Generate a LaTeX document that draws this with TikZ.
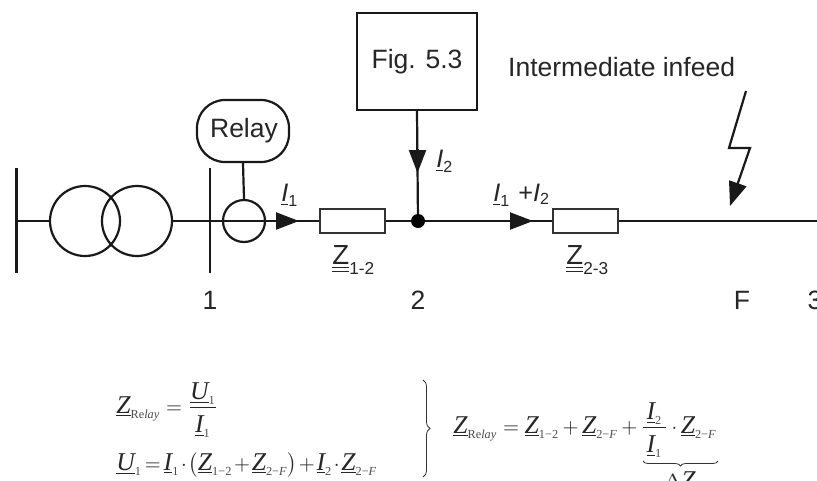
\documentclass[tikz,border=0pt]{standalone}
\usepackage{fontspec}
\setmainfont{Liberation Sans}
\newfontfamily\tms{Liberation Serif}
\usetikzlibrary{arrows.meta,decorations.pathreplacing}
\newcommand\Vc[1]{\underline{\hbox{\fontsize{12.5}{14}\selectfont\tms\itshape #1}}}
\newcommand\Sb[1]{_{\hbox{\fontsize{6}{6}\selectfont\tms\color{black!70}#1}}}
\newcommand\Rl{\Sb{Re\textit{lay}}}
\newcommand\Lc[2]{$\underline{\hbox{\fontsize{11}{13}\selectfont\itshape #1}}_{\hbox{\fontsize{7}{8}\selectfont #2}}$}
\newcommand\Lz[2]{$\underline{\underline{\hbox{\fontsize{12}{14}\selectfont #1}}}_{\hbox{\fontsize{7.5}{8}\selectfont #2}}$}
\newcommand\Dn{\rule{0pt}{10.5pt}}
\tikzset{
  wire/.style={line width=2.2pt,black!90},
  elem/.style={draw=black!80,line width=1.5pt,fill=white,minimum width=65pt,minimum height=24pt,inner sep=0pt},
  ring/.style={circle,draw=black!90,line width=2.2pt,inner sep=0pt},
  lbl/.style={font=\fontsize{26.5}{30}\selectfont,text=black!85,inner sep=0pt},
  sym/.style={scale=2.3,text=black!85,inner sep=0pt},
  eqn/.style={scale=2.05,anchor=base west,inner sep=0pt,text=black!85},
  flow/.style={wire,-{Triangle[length=23pt,width=17pt]},shorten >=-1pt}
}
\begin{document}
\begin{tikzpicture}[x=1pt,y=-1pt]
\useasboundingbox (0,0) rectangle (817,480);
\clip (0,0) rectangle (817,480);
\fill[white] (0,0) rectangle (817,480);
\coordinate (busLt) at (16.5,168); \coordinate (busLb) at (16.5,273);
\coordinate (bus1t) at (210,168);  \coordinate (bus1b) at (210,273);
\coordinate (busLm) at (16.5,221);
\coordinate (endR) at (817,221);
\coordinate (a1s) at (276,221); \coordinate (a1e) at (298,221);
\coordinate (a2s) at (417.5,149); \coordinate (a2e) at (417.5,172);
\coordinate (a3s) at (509,221); \coordinate (a3e) at (532,221);
\node[ring,minimum size=70pt] (t1) at (85,221) {};
\node[ring,minimum size=70pt] (t2) at (137,221) {};
\node[ring,minimum size=42pt] (ct) at (244,221) {};
\node[draw=black!90,line width=2.2pt,rounded corners=28pt,minimum width=92pt,minimum height=62pt,inner sep=0pt,lbl] (relay) at (243,131) {\hspace{2pt}Relay};
\node[draw=black!90,line width=2.2pt,minimum width=120pt,minimum height=97pt,inner sep=0pt,lbl] (fig) at (417,61.5) {Fig. 5.3};
\draw[wire] (busLt) -- (busLb);
\draw[wire] (bus1t) -- (bus1b);
\draw[wire] (busLm) -- (t1.west);
\draw[wire] (t2.east) -- (endR);
\node[elem] (z12) at (352.5,221) {};
\node[elem] (z23) at (585.5,221) {};
\node[circle,fill=black,minimum size=14pt,inner sep=0pt] (n2) at (418,221) {};
\draw[wire] (relay.south) -- (ct.north);
\draw[wire] (fig.south) -- (n2);
\draw[flow] (a1s) -- (a1e);
\draw[flow] (a2s) -- (a2e);
\draw[flow] (a3s) -- (a3e);
\coordinate (l1) at (746,91); \coordinate (l2) at (729,148); \coordinate (l3) at (750,148);
\coordinate (l4) at (730,206);
\draw[wire,-{Triangle[length=24pt,width=18pt]}] (l1) -- (l2) -- (l3) -- (l4);
\node[sym,anchor=base west] (lI1) at (281,201) {\Lc{I}{1}};
\node[sym,anchor=base west] (lI2) at (436,167) {\Lc{I}{2}};
\node[sym,anchor=base west] (lI12) at (493,201) {\Lc{I}{1}\,\,{\fontsize{11}{13}\selectfont +}\hbox{\fontsize{11}{13}\selectfont\itshape I}$_{\hbox{\fontsize{7}{8}\selectfont 2}}$};
\node[sym,anchor=base west] (lZ12) at (332,264) {\Lz{Z}{1-2}};
\node[sym,anchor=base west] (lZ23) at (566,264) {\Lz{Z}{2-3}};
\node[lbl] (n1) at (210,300) {1};
\node[lbl] (nn2) at (418,300) {2};
\node[lbl] (nF) at (742,300) {F};
\node[lbl] (n3) at (815,300) {3};
\node[lbl,anchor=west] (inf) at (508,67) {Intermediate infeed};
\node[eqn] (e1) at (116,413) {$\displaystyle \Vc{Z}\Rl=\frac{\Vc{U}\Sb{1}}{\Dn\Vc{I}\Sb{1}}$};
\node[eqn] (e2) at (116,470) {$\thickmuskip=2.5mu\medmuskip=1.5mu\displaystyle \Vc{U}\Sb{1}=\Vc{I}\Sb{1}\cdot\bigl(\Vc{Z}\Sb{1−2}+\Vc{Z}\Sb{2−\textit{F}}\bigr)+\Vc{I}\Sb{2}\cdot\Vc{Z}\Sb{2−\textit{F}}$};
\node[eqn] (e3) at (453,433) {$\medmuskip=3mu\displaystyle \Vc{Z}\Rl=\Vc{Z}\Sb{1−2}+\Vc{Z}\Sb{2−\textit{F}}+\frac{\,\Vc{I}\Sb{2}\,}{\Dn\Vc{I}\Sb{1}}\cdot\Vc{Z}\Sb{2−\textit{F}}$};
\coordinate (brT) at (423,380); \coordinate (brB) at (423,477);
\draw[black!80,line width=0.8pt,decorate,decoration={brace,amplitude=7pt}] (brT) -- (brB);
\coordinate (ubL) at (718,461); \coordinate (ubR) at (643,461);
\draw[black!80,line width=0.8pt,decorate,decoration={brace,amplitude=5pt}] (ubL) -- (ubR);
\node[eqn,anchor=base] (dz) at (680,488) {$\Delta\Vc{Z}$};
\end{tikzpicture}
\end{document}
